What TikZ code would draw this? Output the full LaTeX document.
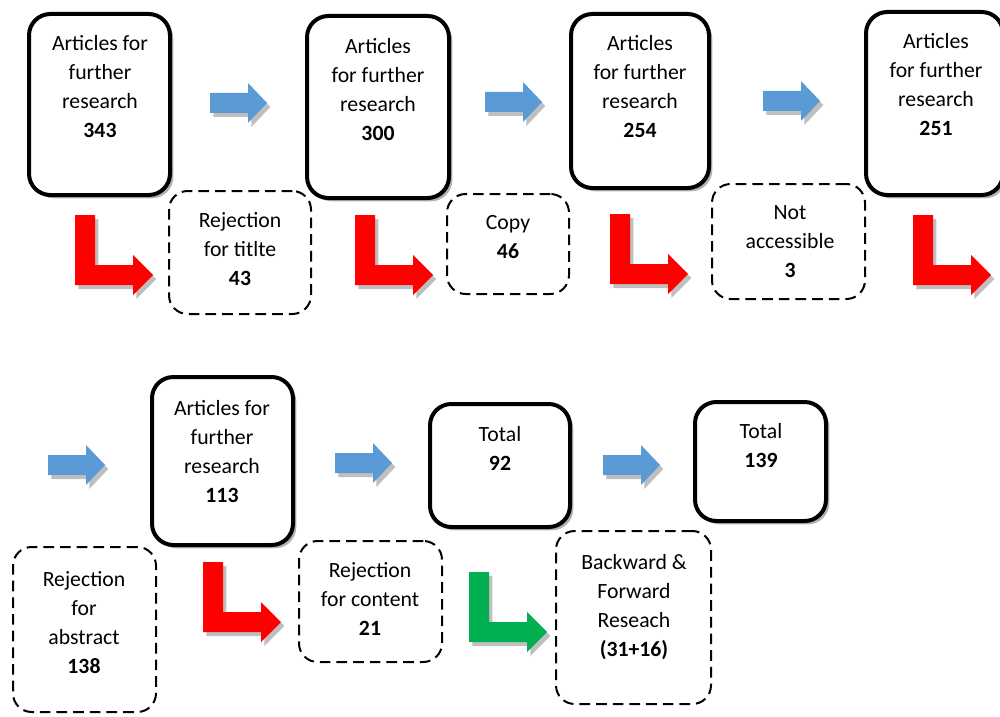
\documentclass[tikz,border=0pt]{standalone}
\usepackage{fontspec}
\setmainfont{Carlito}
\usetikzlibrary{shadows}
\definecolor{flowblue}{HTML}{5B9BD5}
\definecolor{flowred}{HTML}{FF0000}
\definecolor{flowgreen}{HTML}{00B050}
\begin{document}
\begin{tikzpicture}[x=0.75pt,y=-0.75pt,
  solidbox/.style={draw=black, line width=3pt, rounded corners=16pt, fill=white,
    drop shadow={shadow xshift=2.5pt, shadow yshift=-2.5pt, opacity=0.3, fill=black}},
  dashbox/.style={draw=black, line width=1.5pt, dash pattern=on 8pt off 4.5pt,
    rounded corners=14pt, fill=white},
  txt/.style={align=center, inner sep=0pt, font=\fontsize{16.3pt}{21.75pt}\selectfont},
  softshadow/.style={preaction={fill=black, opacity=0.25,
    transform canvas={xshift=2.5pt, yshift=-3pt}}},
  bluearrow/.pic={\path[fill=flowblue, softshadow]
    (0,-10) -- (38,-10) -- (38,-20) -- (57,0) -- (38,20) -- (38,10) -- (0,10) -- cycle;},
  elbow/.pic={\path[fill=#1, softshadow]
    (0,0) -- (20,0) -- (20,50) -- (58,50) -- (58,40) -- (78,60) -- (58,80) -- (58,70) -- (0,70) -- cycle;}
]
\useasboundingbox (0,0) rectangle (1000,717);

% stage boxes
\node[solidbox, minimum width=141*0.75pt, minimum height=181*0.75pt] (b1) at (99.5,104.5) {};
\node[solidbox, minimum width=142*0.75pt, minimum height=182*0.75pt] (b2) at (378,107) {};
\node[solidbox, minimum width=138*0.75pt, minimum height=174*0.75pt] (b3) at (640,101) {};
\node[solidbox, minimum width=137*0.75pt, minimum height=183*0.75pt] (b4) at (934.5,103.5) {};
\node[solidbox, minimum width=141*0.75pt, minimum height=168*0.75pt] (b5) at (222.5,461) {};
\node[solidbox, minimum width=140*0.75pt, minimum height=123*0.75pt] (b6) at (500,465.5) {};
\node[solidbox, minimum width=131*0.75pt, minimum height=119*0.75pt] (b7) at (760.5,461.5) {};

% removed / added counts
\node[dashbox, minimum width=142*0.75pt, minimum height=123*0.75pt] (d1) at (240,252.5) {};
\node[dashbox, minimum width=122*0.75pt, minimum height=100*0.75pt] (d2) at (508,244) {};
\node[dashbox, minimum width=153*0.75pt, minimum height=115*0.75pt] (d3) at (788.5,241.5) {};
\node[dashbox, minimum width=143*0.75pt, minimum height=165*0.75pt] (d4) at (84.5,629.5) {};
\node[dashbox, minimum width=143*0.75pt, minimum height=121*0.75pt] (d5) at (370.5,601.5) {};
\node[dashbox, minimum width=155*0.75pt, minimum height=173*0.75pt] (d6) at (633.5,617.5) {};

% labels
\node[txt] (t1) at (100,87) {Articles for\\further\\research\\\textbf{343}};
\node[txt] (t2) at (378,90) {Articles\\for further\\research\\\textbf{300}};
\node[txt] (t3) at (640,87) {Articles\\for further\\research\\\textbf{254}};
\node[txt] (t4) at (936,84.5) {Articles\\for further\\research\\\textbf{251}};
\node[txt] (t5) at (222,451.5) {Articles for\\further\\research\\\textbf{113}};
\node[txt] (t6) at (500,448) {Total\\\textbf{92}};
\node[txt] (t7) at (761,446) {Total\\\textbf{139}};
\node[txt] (t8) at (240,249) {Rejection\\for titlte\\\textbf{43}};
\node[txt] (t9) at (508,237) {Copy\\\textbf{46}};
\node[txt] (t10) at (790,242) {Not\\accessible\\\textbf{3}};
\node[txt] (t11) at (84,622.5) {Rejection\\for\\abstract\\\textbf{138}};
\node[txt] (t12) at (370,599) {Rejection\\for content\\\textbf{21}};
\node[txt] (t13) at (634,607.5) {Backward \&\\Forward\\Reseach\\\textbf{(31+16)}};

% flow arrows
\pic at (210,103) {bluearrow};
\pic at (485,102) {bluearrow};
\pic at (763,101) {bluearrow};
\pic at (48,465) {bluearrow};
\pic at (335,463) {bluearrow};
\pic at (603,465) {bluearrow};

% branch arrows
\pic at (75,215) {elbow=flowred};
\pic at (355,215) {elbow=flowred};
\pic at (610,214) {elbow=flowred};
\pic at (913,215) {elbow=flowred};
\pic at (203,562) {elbow=flowred};
\pic at (469,572) {elbow=flowgreen};
\end{tikzpicture}
\end{document}
